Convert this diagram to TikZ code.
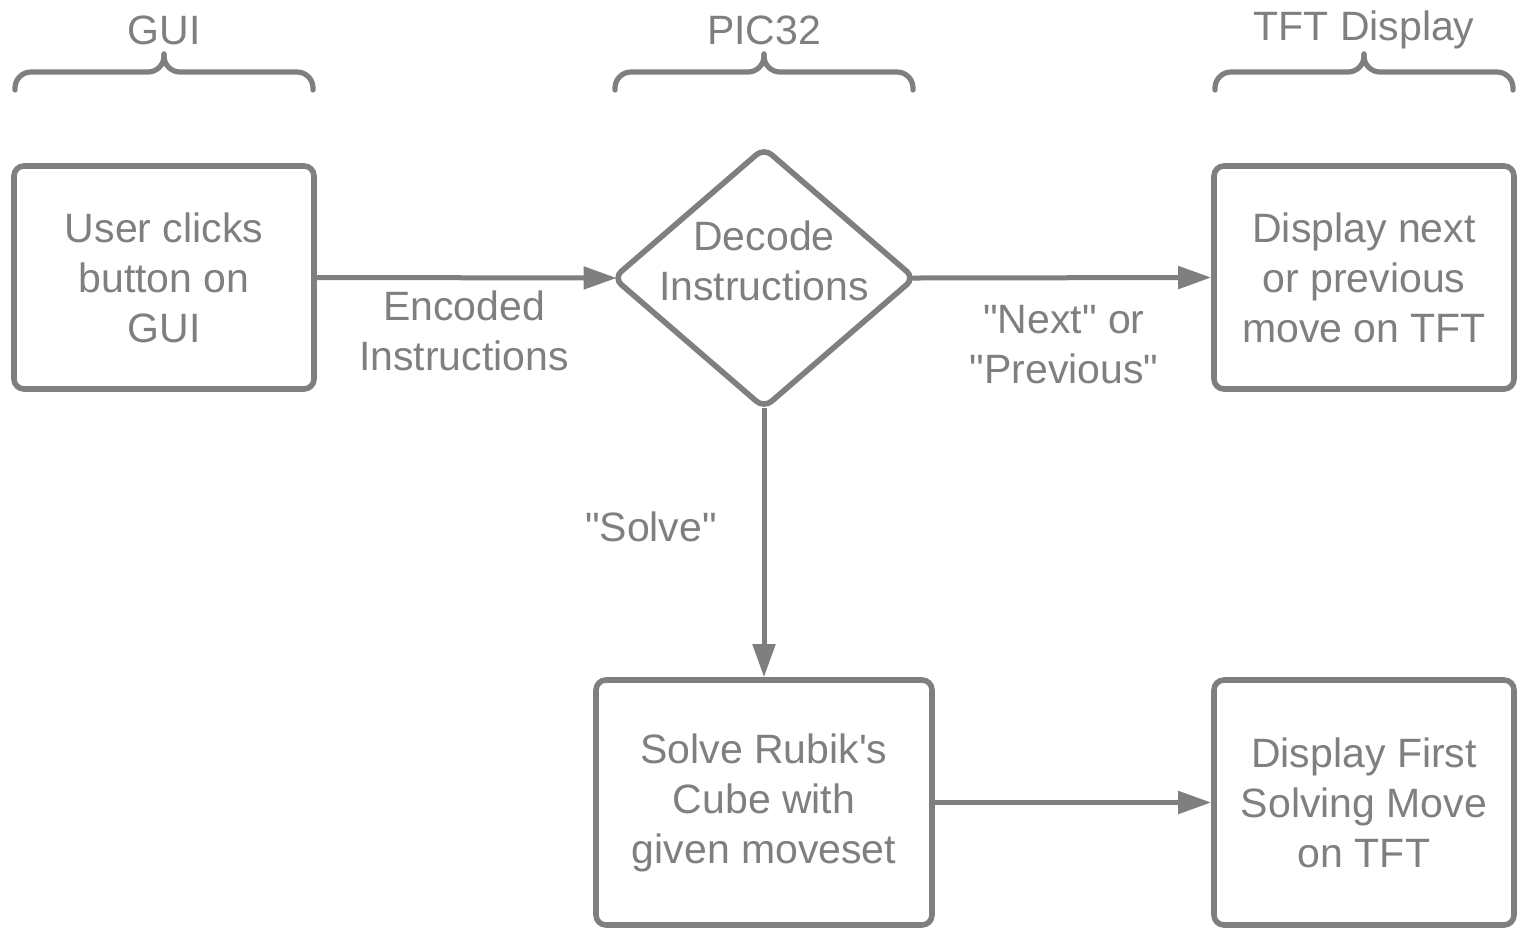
\documentclass[tikz,border=0pt]{standalone}
\usepackage{fontspec}
\setmainfont{Liberation Sans}
\usetikzlibrary{shapes.geometric, arrows.meta, positioning}
\definecolor{flowgray}{HTML}{7F7F7F}

\tikzset{bracket/.pic={
    \draw[bracketline] (-149,36) |- (0,18) -- (0,0);
    \draw[bracketline] (149,36) |- (0,18) -- (0,0);
}}

\begin{document}
\begin{tikzpicture}[x=0.5pt, y=-0.5pt,
        every node/.style={text=flowgray, font=\fontsize{20.5}{25}\selectfont, align=center},
        block/.style={draw=flowgray, line width=2.8pt, rounded corners=5pt, inner sep=0pt, minimum width=150pt, minimum height=111.5pt},
        decision/.style={diamond, draw=flowgray, line width=2.8pt, rounded corners=5pt, inner sep=0pt, minimum width=151.5pt, minimum height=131pt},
        flow/.style={draw=flowgray, line width=2.5pt, -{Triangle[length=16.5pt, width=11pt]}},
        bracketline/.style={draw=flowgray, line width=2.6pt, rounded corners=8pt, line cap=round}]
        \useasboundingbox (0,0) rectangle (1525,937);

        % column titles
        \node (guititle) at (164,30) {GUI};
        \node (pictitle) at (764,30) {PIC32};
        \node (tfttitle) at (1364,30) {TFT Display};
        \pic at (164,54) {bracket};
        \pic at (764,54) {bracket};
        \pic at (1364,54) {bracket};

        % blocks
        \node[block] (gui) at (164,277.5) {User clicks\\button on\\GUI};
        \node[decision] (decode) at (764,278) {};
        \node (decodetext) at (764,261) {Decode\\Instructions};
        \node[block] (tft) at (1364,277.5) {Display next\\or previous\\move on TFT};
        \node[block, minimum width=168pt, minimum height=122.5pt] (solve) at (764,802.5) {Solve Rubik\textquotesingle s\\Cube with\\given moveset};
        \node[block, minimum height=122.5pt] (first) at (1364,802.5) {Display First\\Solving Move\\on TFT};

        % connectors
        \draw[flow, shorten >=-3.5pt] (gui.east) -- (decode.west);
        \draw[flow, shorten <=-3.5pt] (decode.east) -- (tft.west);
        \draw[flow, shorten <=-2pt] (decode.south) -- (solve.north);
        \draw[flow] (solve.east) -- (first.west);

        \node (enclabel) at (464,331) {Encoded\\Instructions};
        \node (nextlabel) at (1064,345) {\textquotedbl Next\textquotedbl\ or\\\textquotedbl Previous\textquotedbl};
        \node (solvelabel) at (651,527) {\textquotedbl Solve\textquotedbl};
    \end{tikzpicture}
\end{document}
